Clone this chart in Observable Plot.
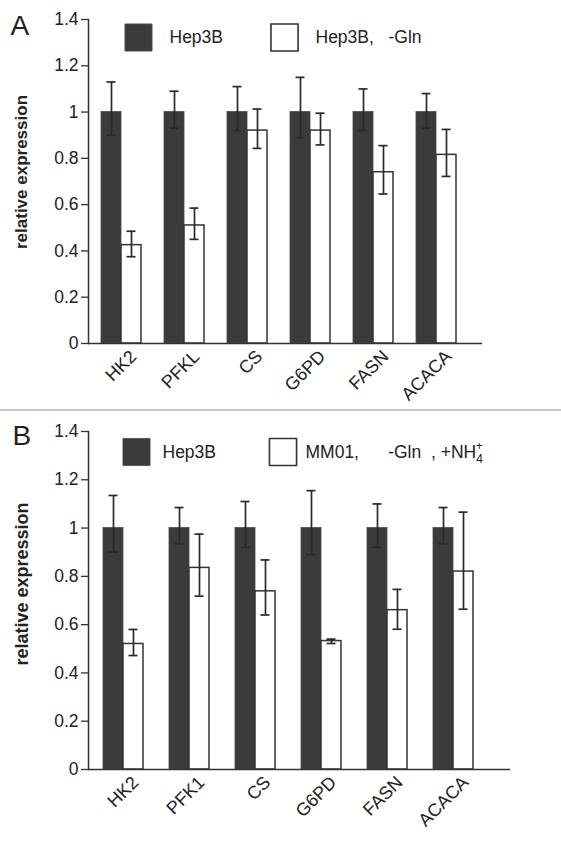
<!DOCTYPE html>
<html><head><meta charset="utf-8">
<script src="https://cdn.jsdelivr.net/npm/d3@7"></script>
<script src="https://cdn.jsdelivr.net/npm/@observablehq/plot@0.6"></script>
<style>
body{margin:0;background:#fff;font-family:"Liberation Sans",Arial,sans-serif;}
#wrap{width:561px;height:849px;overflow:hidden}
.sep{height:2px;background:#c9c9c9;width:561px}
svg{display:block}
</style></head><body><div id="wrap"></div>
<script>
// ---- data ----
const genesA = ["HK2","PFKL","CS","G6PD","FASN","ACACA"];
const genesB = ["HK2","PFK1","CS","G6PD","FASN","ACACA"];
const seriesA = ["Hep3B","Hep3B,\u00a0\u00a0 -Gln"];
const seriesB = ["Hep3B","MM01,\u00a0\u00a0\u00a0\u00a0\u00a0 -Gln\u00a0 , +NH4+"];
const ctrlA    = [1, 1, 1, 1, 1, 1];
const ctrlAHi  = [1.13, 1.09, 1.11, 1.15, 1.10, 1.08];
const ctrlALo  = [0.90, 0.93, 0.92, 0.89, 0.92, 0.93];
const treatA   = [0.425, 0.51, 0.92, 0.92, 0.74, 0.815];
const treatAHi = [0.485, 0.585, 1.013, 0.995, 0.855, 0.925];
const treatALo = [0.375, 0.45, 0.843, 0.858, 0.646, 0.722];
const ctrlB    = [1, 1, 1, 1, 1, 1];
const ctrlBHi  = [1.135, 1.085, 1.11, 1.155, 1.10, 1.085];
const ctrlBLo  = [0.90, 0.935, 0.92, 0.89, 0.92, 0.935];
const treatB   = [0.52, 0.835, 0.738, 0.532, 0.66, 0.82];
const treatBHi = [0.58, 0.975, 0.868, 0.54, 0.746, 1.066];
const treatBLo = [0.472, 0.718, 0.64, 0.522, 0.581, 0.664];
const yTicks = [0, 0.2, 0.4, 0.6, 0.8, 1, 1.2, 1.4];
const yLabel = "relative expression";

const FONT = "Liberation Sans, Arial, sans-serif";
const DARK = "#3b3b3b";
const INK = "#2a2a2a";

function panel(cfg) {
  const ctrl = cfg.genes.map((g, i) => ({gene: g, v: cfg.ctrl[i], hi: cfg.ctrlHi[i], lo: cfg.ctrlLo[i]}));
  const treat = cfg.genes.map((g, i) => ({gene: g, v: cfg.treat[i], hi: cfg.treatHi[i], lo: cfg.treatLo[i]}));
  const half = 20;
  const cap = {l: 5.5, r: 25.5};
  const errStyle = {stroke: INK, strokeWidth: 1.7};
  return Plot.plot({
    width: 561,
    height: cfg.height,
    marginTop: cfg.marginTop,
    marginBottom: cfg.marginBottom,
    marginLeft: 88,
    marginRight: cfg.marginRight,
    style: {fontFamily: FONT, color: "#222", background: "white", overflow: "visible"},
    x: {domain: cfg.genes, paddingInner: cfg.padInner, paddingOuter: cfg.padOuter, insetRight: cfg.insetRight, label: null},
    y: {domain: [0, 1.4], label: null},
    marks: [
      Plot.barY(ctrl, {x: "gene", y: "v", fill: DARK, stroke: "#4a4a4a", strokeWidth: 0.8, insetRight: half}),
      Plot.barY(treat, {x: "gene", y: "v", fill: "white", stroke: "#333", strokeWidth: 1.5, insetLeft: half}),
      Plot.ruleX(ctrl, {x: "gene", y1: "lo", y2: "hi", dx: -half / 2, ...errStyle}),
      Plot.tickY(ctrl, {x: "gene", y: "hi", insetLeft: cap.l, insetRight: cap.r, ...errStyle}),
      Plot.tickY(ctrl, {x: "gene", y: "lo", insetLeft: cap.l, insetRight: cap.r, ...errStyle}),
      Plot.ruleX(treat, {x: "gene", y1: "lo", y2: "hi", dx: half / 2, ...errStyle}),
      Plot.tickY(treat, {x: "gene", y: "hi", insetLeft: cap.r, insetRight: cap.l, ...errStyle}),
      Plot.tickY(treat, {x: "gene", y: "lo", insetLeft: cap.r, insetRight: cap.l, ...errStyle}),
      Plot.ruleY([0], {stroke: "#333", strokeWidth: 1.5}),
      Plot.frame({anchor: "left", stroke: "#333", strokeWidth: 1.5}),
      Plot.axisY({ticks: yTicks, tickFormat: d => String(+d.toFixed(1)), tickSize: 7, tickPadding: 3, fontSize: 17.5, stroke: "#333", strokeWidth: 1.3, label: null}),
      Plot.axisX({tickRotate: -45, tickSize: 0, tickPadding: cfg.xPad, dx: cfg.xDx, fontSize: 18, label: null}),
      // legend
      Plot.dot([cfg.series[0]], {frameAnchor: "top-left", dx: cfg.leg[0], dy: cfg.legDy, symbol: "square", r: 15.3, fill: DARK, stroke: "#4a4a4a", strokeWidth: 0.8}),
      Plot.text([cfg.series[0]], {frameAnchor: "top-left", dx: cfg.leg[1], dy: cfg.legDy, text: d => d, textAnchor: "start", lineAnchor: "middle", fontSize: 17.5, fill: "#222"}),
      Plot.dot([cfg.series[1]], {frameAnchor: "top-left", dx: cfg.leg[2], dy: cfg.legDy, symbol: "square", r: 15.3, fill: "white", stroke: "#333", strokeWidth: 1.6}),
      Plot.text([cfg.series[1]], {frameAnchor: "top-left", dx: cfg.leg[3], dy: cfg.legDy, text: d => d, textAnchor: "start", lineAnchor: "middle", fontSize: 17.5, fill: "#222"}),
      // panel letter
      Plot.text([cfg.letter], {frameAnchor: "top-left", dx: cfg.letterDx, dy: cfg.letterDy, text: d => d, textAnchor: "start", lineAnchor: "top", fontSize: 28, fill: "#222"}),
      // y label
      Plot.text([yLabel], {frameAnchor: "left", dx: -66.5, dy: cfg.labelDy, rotate: -90, text: d => d, textAnchor: "middle", lineAnchor: "middle", fontWeight: "bold", fontSize: cfg.labelSize, fill: "#222"})
    ]
  });
}

const wrap = document.getElementById("wrap");
const pA = panel({
  genes: genesA, series: seriesA, ctrl: ctrlA, ctrlHi: ctrlAHi, ctrlLo: ctrlALo,
  treat: treatA, treatHi: treatAHi, treatLo: treatALo,
  height: 409, marginTop: 19, marginBottom: 66, marginRight: 79, insetRight: 13,
  padInner: 0.367, padOuter: 0.2, xPad: 10, xDx: 12,
  leg: [50, 81, 196, 227], legDy: 18, letter: "A", letterDx: -78, letterDy: -4,
  labelDy: -9.5, labelSize: 17
});
const sep = document.createElement("div"); sep.className = "sep";
const pB = panel({
  genes: genesB, series: seriesB, ctrl: ctrlB, ctrlHi: ctrlBHi, ctrlLo: ctrlBLo,
  treat: treatB, treatHi: treatBHi, treatLo: treatBLo,
  height: 438, marginTop: 20, marginBottom: 80, marginRight: 51, insetRight: 23,
  padInner: 0.4, padOuter: 0.195, xPad: 10, xDx: 12,
  leg: [48, 74, 194.5, 217], legDy: 20.5, letter: "B", letterDx: -76, letterDy: -6,
  labelDy: -16.5, labelSize: 18
});
wrap.append(pA, sep, pB);

// subscript / superscript for NH4+
d3.select(pB).selectAll("text").each(function() {
  if (this.textContent === seriesB[1]) {
    const base = seriesB[1].slice(0, -2);
    const t = d3.select(this);
    t.text(base);
    t.append("tspan").attr("dy", 5).attr("font-size", 12).text("4");
    t.append("tspan").attr("dx", -7).attr("dy", -13).attr("font-size", 12).text("+");
  }
});
</script></body></html>
